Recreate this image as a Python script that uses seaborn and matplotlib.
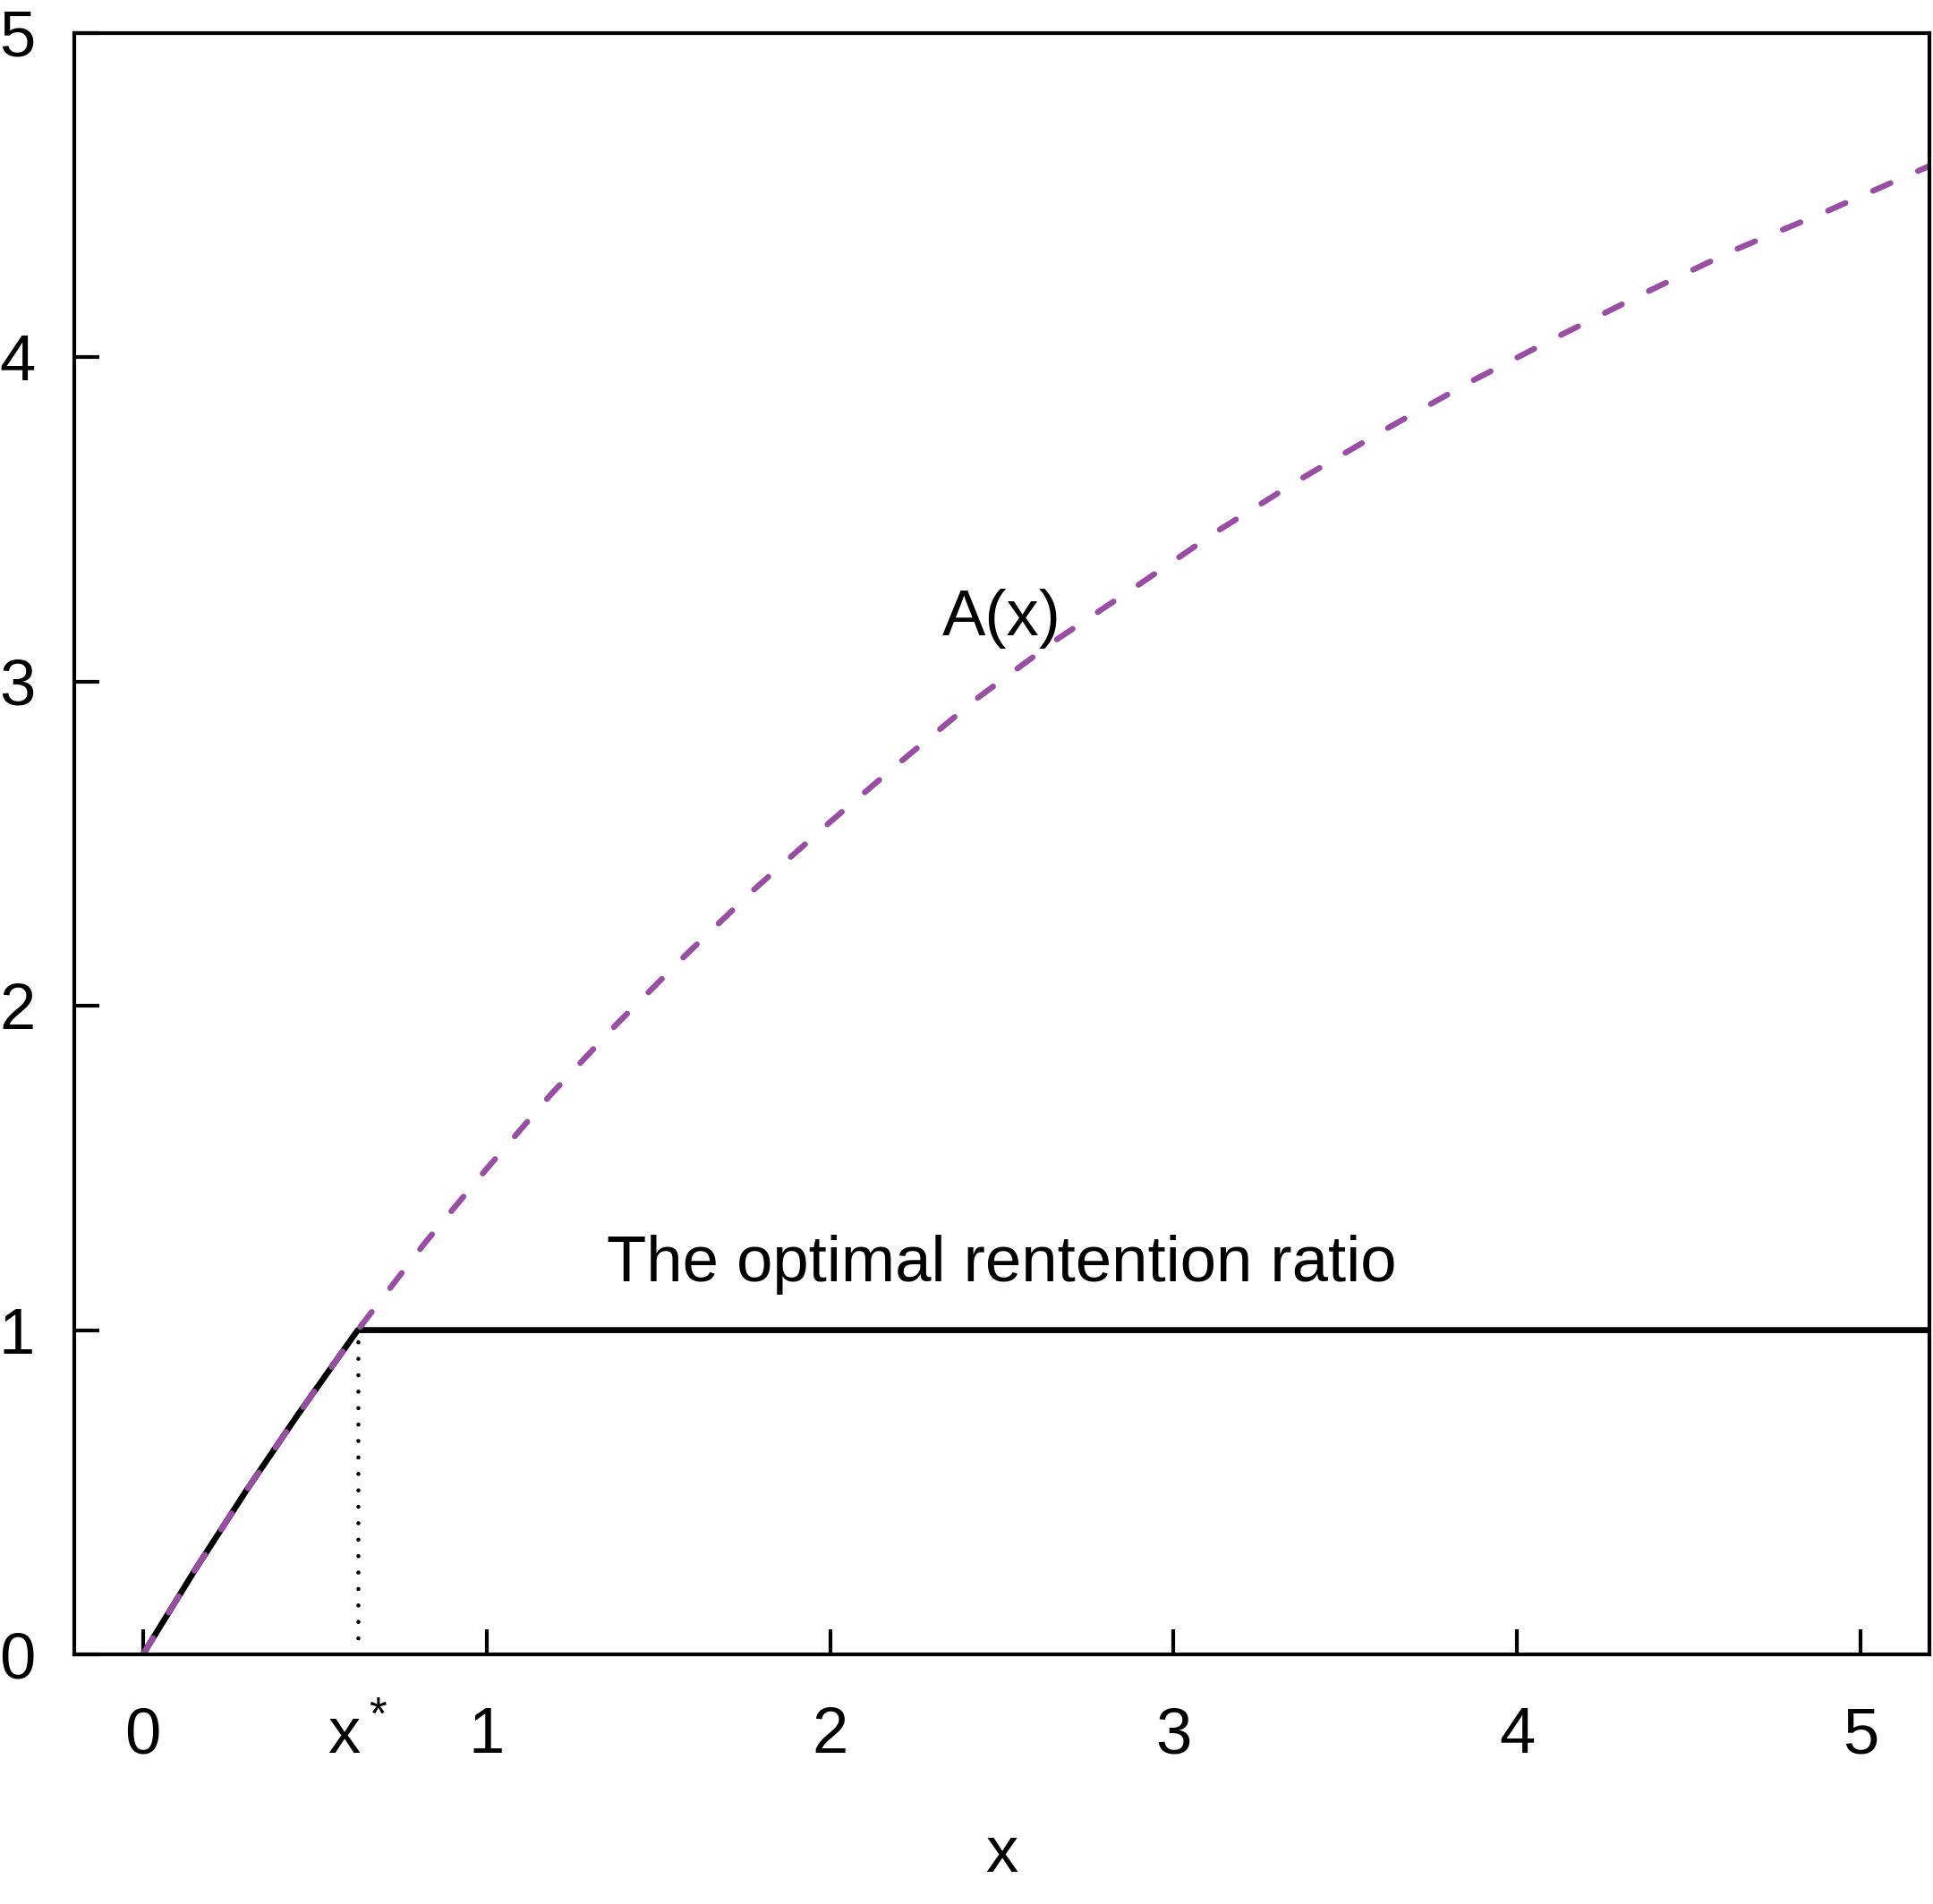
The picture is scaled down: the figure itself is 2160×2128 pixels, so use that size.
import numpy as np
import pandas as pd
import matplotlib
matplotlib.use("Agg")
import matplotlib.pyplot as plt
import seaborn as sns

# ---- data ----
x_vals = [0.0, 0.15, 0.30, 0.45, 0.625, 0.82, 1.00, 1.19, 1.38, 1.58, 1.78, 2.00,
          2.21, 2.43, 2.66, 2.90, 3.13, 3.37, 3.62, 3.87, 4.12, 4.37, 4.63, 4.90,
          5.15, 5.20]
A_vals = [0.0, 0.258, 0.504, 0.738, 1.0, 1.268, 1.497, 1.73, 1.945, 2.157, 2.36,
          2.567, 2.757, 2.95, 3.13, 3.30, 3.466, 3.625, 3.78, 3.928, 4.065, 4.198,
          4.33, 4.45, 4.567, 4.59]
x_star = 0.625
retention_level = 1.0
x_ticks = [0, 1, 2, 3, 4, 5]
y_ticks = [0, 1, 2, 3, 4, 5]
label_A = "A(x)"
label_ratio = "The optimal rentention ratio"
xlabel = "x"

df = pd.DataFrame({"x": x_vals, "A": A_vals})
df["ratio"] = np.minimum(df["A"], retention_level)

sns.set_style("white")
plt.rcParams["font.family"] = ["Liberation Sans", "DejaVu Sans"]
plt.rcParams["mathtext.fontset"] = "custom"
plt.rcParams["mathtext.rm"] = "Liberation Sans"
for k in ["text.color", "axes.labelcolor", "xtick.color", "ytick.color", "axes.edgecolor"]:
    plt.rcParams[k] = "black"

FS = 17.4
fig = plt.figure(figsize=(7.2, 2128 / 300), dpi=300)
ax = fig.add_axes([83 / 2160, 1 - 1849 / 2128, (2156 - 83) / 2160, (1849 - 37) / 2128])

purple = "#984EA3"
sns.lineplot(data=df, x="x", y="ratio", ax=ax, color="black", lw=1.6,
             estimator=None, sort=True)
sns.lineplot(data=df, x="x", y="A", ax=ax, color=purple, lw=1.55,
             estimator=None, sort=True)
black_line, purple_line = ax.lines[0], ax.lines[1]
purple_line.set_linestyle((0, (3.3, 5.2)))
purple_line.set_dash_capstyle("round")
black_line.set_solid_capstyle("butt")

ax.plot([x_star, x_star], [0, retention_level], color="black", lw=1.1,
        linestyle=(0, (0.01, 4.0)), dash_capstyle="round")

ax.set_xlim(-0.2, 5.2)
ax.set_ylim(0, 5)

ax.set_xticks(x_ticks)
ax.set_xticklabels([str(t) for t in x_ticks])
ax.set_xticks([x_star], minor=True)
ax.set_xticklabels([r"$\mathregular{x^*}$"], minor=True)
ax.set_yticks(y_ticks)
ax.set_yticklabels([str(t) for t in y_ticks])

ax.tick_params(axis="x", which="major", direction="in", length=6.8, width=1.0,
               labelsize=FS, pad=14, color="black", bottom=True)
ax.tick_params(axis="x", which="minor", direction="in", length=0, width=0,
               labelsize=FS, pad=14, bottom=True)
ax.tick_params(axis="y", which="major", direction="in", length=6.8, width=1.0,
               labelsize=FS, pad=10.5, color="black", left=True)

for s in ax.spines.values():
    s.set_visible(True)
    s.set_color("black")
    s.set_linewidth(1.0)

ax.set_xlabel(xlabel, fontsize=FS, labelpad=15.5)
ax.set_ylabel("")

ax.text(2.5, 3.195, label_A, fontsize=FS, ha="center", va="center")
ax.text(2.5, 1.202, label_ratio, fontsize=FS, ha="center", va="center")

fig.savefig("out.png", dpi=300)
